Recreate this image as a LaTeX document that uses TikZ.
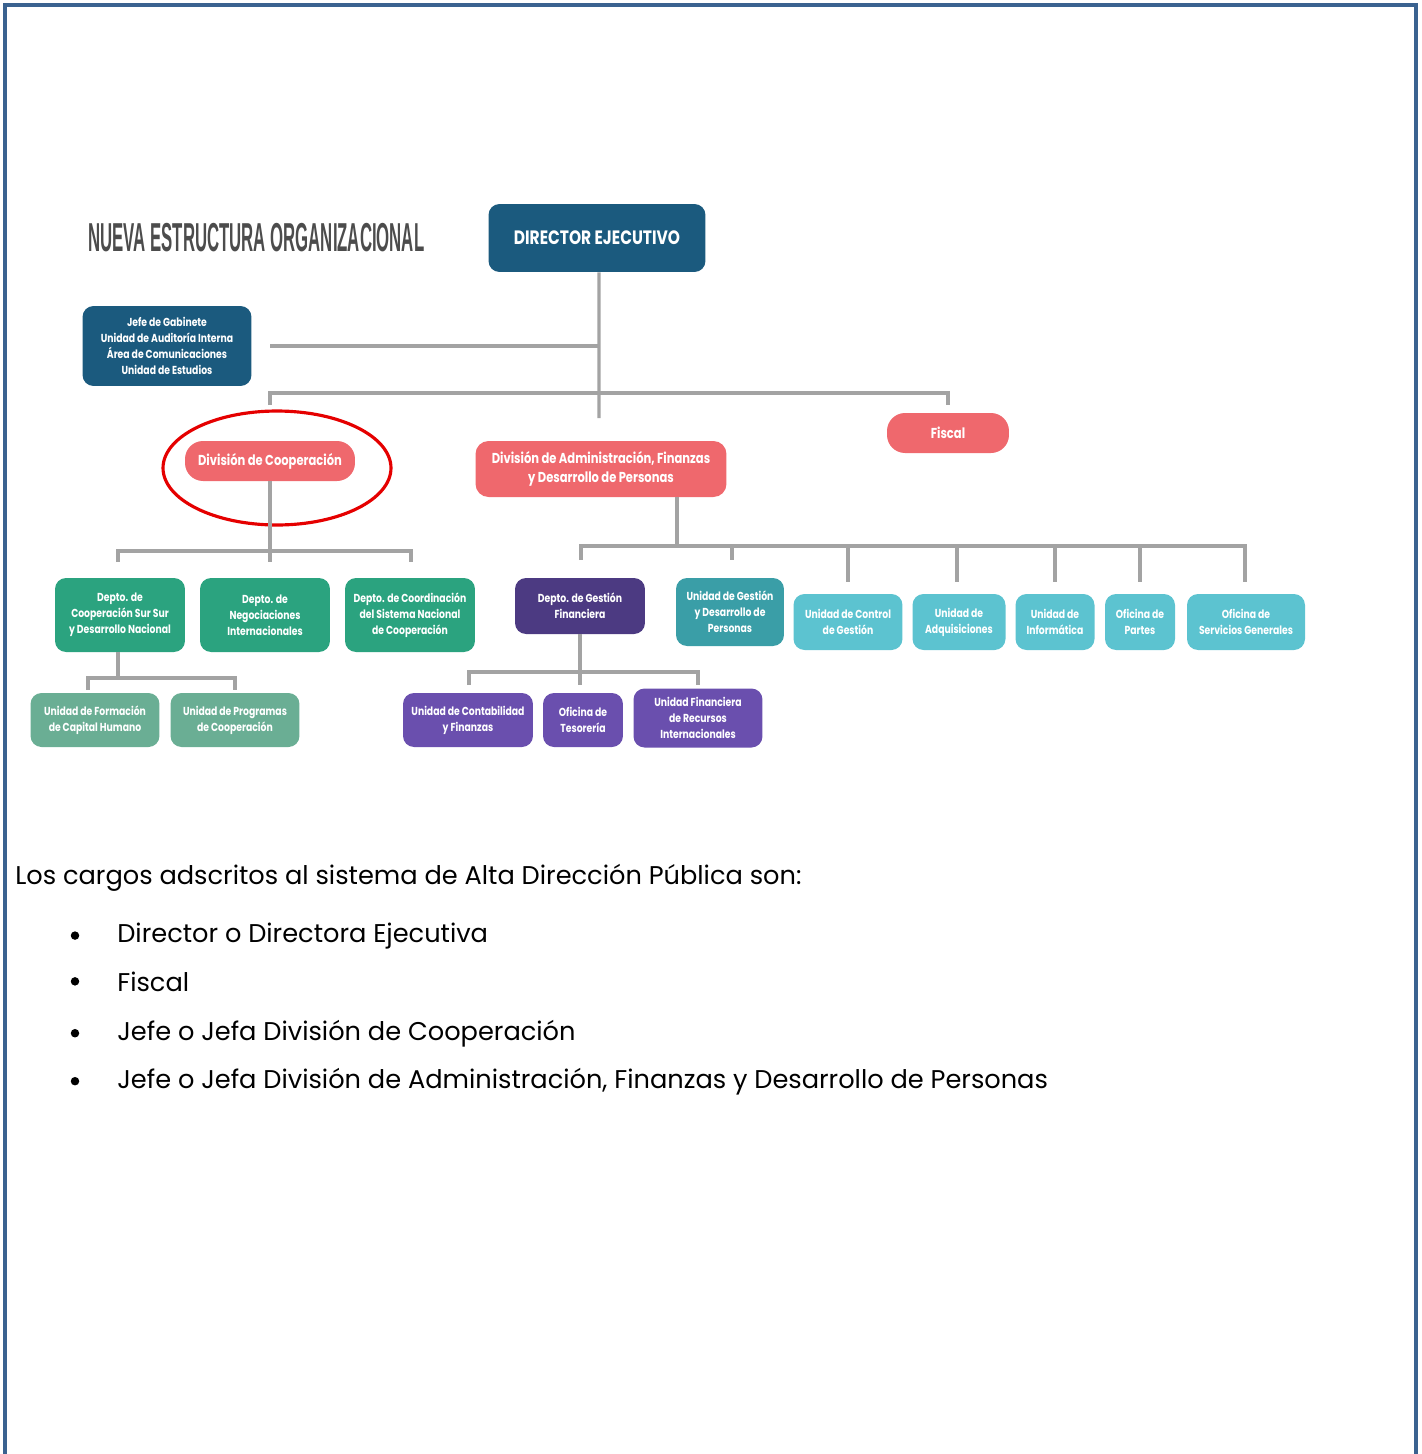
\documentclass[tikz,border=0pt]{standalone}
\usepackage{fontspec}
\setmainfont{Poppins}
\newfontfamily\boxfont[FakeStretch=0.8]{Poppins}
\newfontfamily\titlefont[FakeStretch=0.415]{Liberation Sans}
\usepackage{tikz}
\usetikzlibrary{positioning, shapes.geometric, calc}

\definecolor{framecol}{HTML}{3A6290}
\definecolor{dirblue}{HTML}{1B5A7E}
\definecolor{coral}{HTML}{EF686D}
\definecolor{deptgreen}{HTML}{2BA37F}
\definecolor{unitgreen}{HTML}{6AAE94}
\definecolor{deptpurple}{HTML}{4C3A82}
\definecolor{unitpurple}{HTML}{6A4FAE}
\definecolor{deptteal}{HTML}{3A9EA7}
\definecolor{unitcyan}{HTML}{5CC3D0}
\definecolor{linegray}{HTML}{A3A3A3}

\begin{document}
\begin{tikzpicture}[
    x=0.02cm, y=-0.02cm,
    box/.style={rectangle, rounded corners=0.22cm, inner sep=0pt, align=center,
        text=white, font=\boxfont\bfseries\fontsize{6.6}{9}\selectfont},
    pill/.style={box, rounded corners=0.36cm, font=\boxfont\bfseries\fontsize{8.2}{11}\selectfont},
    conn/.style={draw=linegray, line width=1.9pt}
]
    % page and frame
    \useasboundingbox (0,0) rectangle (1421,1454);
    \draw[framecol, line width=1.8pt] (5,1454) -- (5,5) -- (1416,5) -- (1416,1454);
    \draw[framecol, line width=1pt] (5,6) -- (1416,6);

    % title
    \node[anchor=west, inner sep=0pt, text=black!70, font=\titlefont\bfseries\fontsize{23}{23}\selectfont]
        (title) at (88,238) {NUEVA ESTRUCTURA ORGANIZACIONAL};

    % top level
    \node[box, fill=dirblue, minimum width=4.34cm, minimum height=1.36cm,
        font=\boxfont\bfseries\fontsize{11}{12}\selectfont] (dir) at (597,238) {DIRECTOR EJECUTIVO};
    \node[box, fill=dirblue, minimum width=3.38cm, minimum height=1.6cm] (gab) at (167,346)
        {Jefe de Gabinete\\ Unidad de Auditoría Interna\\ Área de Comunicaciones\\ Unidad de Estudios};

    % divisions
    \node[pill, fill=coral, minimum width=3.4cm, minimum height=0.8cm] (coop) at (270,461) {División de Cooperación};
    \node[pill, fill=coral, minimum width=5.02cm, minimum height=1.12cm, rounded corners=0.26cm] (adm) at (601,469)
        {División de Administración, Finanzas\\ y Desarrollo de Personas};
    \node[pill, fill=coral, minimum width=2.44cm, minimum height=0.8cm] (fisc) at (948,433) {Fiscal};

    % highlight
    \draw[red!90!black, line width=1.8pt] (277,468) ellipse [x radius=2.28cm, y radius=1.14cm];

    % cooperation departments
    \node[box, fill=deptgreen, minimum width=2.6cm, minimum height=1.48cm] (css) at (120,615)
        {Depto. de\\ Cooperación Sur Sur\\ y Desarrollo Nacional};
    \node[box, fill=deptgreen, minimum width=2.6cm, minimum height=1.48cm] (neg) at (265,615)
        {Depto. de\\ Negociaciones\\ Internacionales};
    \node[box, fill=deptgreen, minimum width=2.6cm, minimum height=1.48cm] (csn) at (410,615)
        {Depto. de Coordinación\\ del Sistema Nacional\\ de Cooperación};
    \node[box, fill=unitgreen, minimum width=2.58cm, minimum height=1.08cm] (fch) at (95,720)
        {Unidad de Formación\\ de Capital Humano};
    \node[box, fill=unitgreen, minimum width=2.58cm, minimum height=1.08cm] (prog) at (235,720)
        {Unidad de Programas\\ de Cooperación};

    % administration units
    \node[box, fill=deptpurple, minimum width=2.6cm, minimum height=1.12cm] (gf) at (580,606)
        {Depto. de Gestión\\ Financiera};
    \node[box, fill=deptteal, minimum width=2.16cm, minimum height=1.36cm] (gdp) at (730,612)
        {Unidad de Gestión\\ y Desarrollo de\\ Personas};
    \node[box, fill=unitcyan, minimum width=2.18cm, minimum height=1.12cm] (ctrl) at (848,622)
        {Unidad de Control\\ de Gestión};
    \node[box, fill=unitcyan, minimum width=1.86cm, minimum height=1.12cm] (adq) at (959,622)
        {Unidad de\\ Adquisiciones};
    \node[box, fill=unitcyan, minimum width=1.58cm, minimum height=1.12cm] (inf) at (1055,622)
        {Unidad de\\ Informática};
    \node[box, fill=unitcyan, minimum width=1.4cm, minimum height=1.12cm] (part) at (1140,622)
        {Oficina de\\ Partes};
    \node[box, fill=unitcyan, minimum width=2.36cm, minimum height=1.12cm] (sg) at (1246,622)
        {Oficina de\\ Servicios Generales};
    \node[box, fill=unitpurple, minimum width=2.6cm, minimum height=1.08cm] (cont) at (468,720)
        {Unidad de Contabilidad\\ y Finanzas};
    \node[box, fill=unitpurple, minimum width=1.6cm, minimum height=1.08cm] (tes) at (583,720)
        {Oficina de\\ Tesorería};
    \node[box, fill=unitpurple, minimum width=2.58cm, minimum height=1.18cm] (ufri) at (698,718)
        {Unidad Financiera\\ de Recursos\\ Internacionales};

    % free ends of the connectors
    \coordinate (gabEnd) at (270,346);
    \coordinate (dirEnd) at (599,418);
    \coordinate (coopTop) at (270,405);
    \coordinate (fiscTop) at (948,405);
    \coordinate (coopEnd) at (270,562);
    \coordinate (admBus) at (677,546);
    \coordinate (gfEnd) at (580,685);
    \coordinate (cssBus) at (118,678);

    % connectors
    \draw[conn] ([xshift=0.04cm]dir.south) -- (dirEnd);
    \draw[conn] (gabEnd) -- (gabEnd -| dirEnd);
    \draw[conn] (coopTop) |- (948,393) -- (fiscTop);
    \draw[conn] (coop.south) -- (coopEnd);
    \draw[conn] (118,562) |- (411,551) -- (411,562);
    \draw[conn] (css.south -| cssBus) -- (cssBus);
    \draw[conn] (88,690) |- (235,678) -- (235,690);
    \draw[conn] (adm.south -| admBus) -- (admBus);
    \draw[conn] (581,560) |- (1245,546) -- (1245,582);
    \foreach \xx/\yy in {732/560, 848/582, 957/582, 1055/582, 1140/582}
        \draw[conn] (\xx,546) -- (\xx,\yy);
    \draw[conn] (gf.south) -- (gfEnd);
    \draw[conn] (469,685) |- (698,672) -- (698,685);

    % text below the chart
    \node[anchor=base west, inner sep=0pt, font=\fontsize{14.6}{17}\selectfont] (intro) at (15,884)
        {Los cargos adscritos al sistema de Alta Dirección Pública son:};
    \foreach \yy/\txt [count=\i] in {942/{Director o Directora Ejecutiva}, 991/Fiscal,
            1040/{Jefe o Jefa División de Cooperación},
            1088/{Jefe o Jefa División de Administración, Finanzas y Desarrollo de Personas}} {
        \node[anchor=base west, inner sep=0pt, font=\fontsize{14.6}{17}\selectfont] (item\i) at (117,\yy) {\txt};
        \fill (item\i.west) ++(-42,0) circle (0.085cm);
    }
\end{tikzpicture}
\end{document}
